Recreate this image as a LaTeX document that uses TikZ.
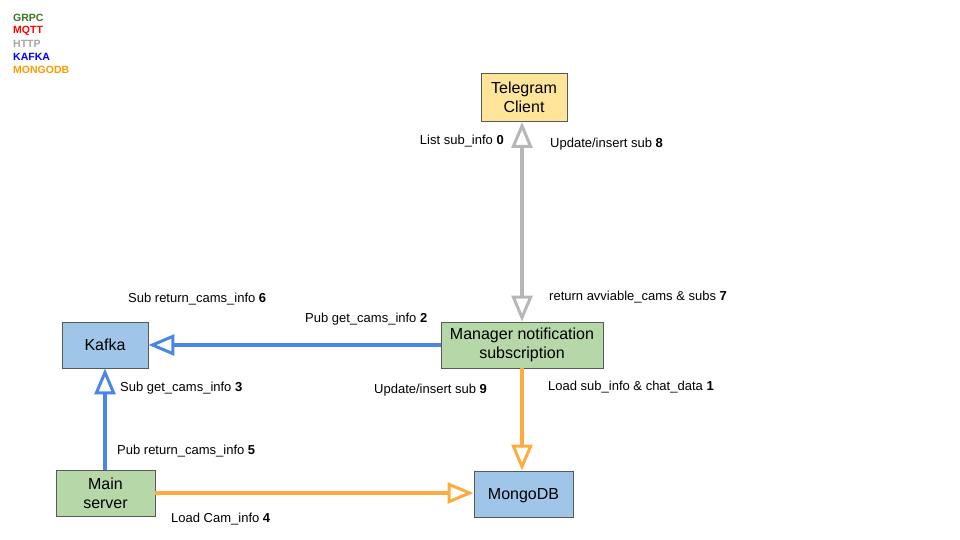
\documentclass[tikz,border=0pt]{standalone}
\usepackage{fontspec}
\setmainfont{Liberation Sans}
\usetikzlibrary{arrows.meta}
\definecolor{tgfill}{HTML}{FFE599}
\definecolor{bluefill}{HTML}{9FC5E8}
\definecolor{greenfill}{HTML}{B6D7A8}
\definecolor{boxline}{HTML}{595959}
\definecolor{kafkaline}{HTML}{4A86E8}
\definecolor{mongoline}{HTML}{FFAB40}
\definecolor{httpline}{HTML}{B7B7B7}
\definecolor{lgrpc}{HTML}{38761D}
\definecolor{lmqtt}{HTML}{FF0000}
\definecolor{lhttp}{HTML}{A5A5A5}
\definecolor{lkafka}{HTML}{0000FF}
\definecolor{lmongo}{HTML}{FF9900}
\tikzset{
  box/.style={draw=boxline, line width=0.9pt, align=center, inner sep=0pt,
    font=\fontsize{16}{19}\selectfont},
  lbl/.style={anchor=west, inner sep=0pt, font=\fontsize{13}{15}\selectfont},
  leg/.style={anchor=west, inner sep=0pt, font=\fontsize{10.5}{12}\selectfont\bfseries},
  tip/.tip={Triangle[open, length=26pt, width=21pt, line width=3pt]},
  conn/.style={line width=3.2pt, -tip},
  conn2/.style={line width=3.2pt, tip-tip}
}
\begin{document}
\begin{tikzpicture}[x=1pt, y=-1pt]
\useasboundingbox (0,0) rectangle (960,540);
% legend
\node[leg, text=lgrpc] (lg1) at (13,18) {GRPC};
\node[leg, text=lmqtt] (lg2) at (13,31) {MQTT};
\node[leg, text=lhttp] (lg3) at (13,44) {HTTP};
\node[leg, text=lkafka] (lg4) at (13,57) {KAFKA};
\node[leg, text=lmongo] (lg5) at (13,70) {MONGODB};
% boxes
\node[box, fill=tgfill, minimum width=86pt, minimum height=48pt] (tele) at (524,97.5) {Telegram\\Client};
\node[box, fill=bluefill, minimum width=86pt, minimum height=46pt] (kafka) at (105,345) {Kafka};
\node[box, fill=greenfill, minimum width=162pt, minimum height=46pt] (mgr) at (522,345) {Manager notification\\subscription};
\node[box, fill=greenfill, minimum width=99pt, minimum height=46pt] (main) at (105.5,493) {Main\\server};
\node[box, fill=bluefill, minimum width=99pt, minimum height=46pt, text depth=0pt] (mongo) at (523.5,494) {MongoDB};
% connectors
\draw[conn2, draw=httpline] (tele.south -| mgr.north) -- (mgr.north);
\draw[conn, draw=kafkaline] (mgr.west) -- (kafka.east);
\draw[conn, draw=kafkaline] (main.north -| kafka.south) -- (kafka.south);
\draw[conn, draw=mongoline] (mgr.south) -- (mgr.south |- mongo.north);
\draw[conn, draw=mongoline] (main.east) -- (main.east -| mongo.west);
% labels
\node[lbl, anchor=east] (l0) at (504,141) {List sub\_info \textbf{0}};
\node[lbl] (l8) at (550,144) {Update/insert sub \textbf{8}};
\node[lbl] (l7) at (549,297) {return avviable\_cams \& subs \textbf{7}};
\node[lbl] (l6) at (128,299.5) {Sub return\_cams\_info \textbf{6}};
\node[lbl] (l2) at (305,319) {Pub get\_cams\_info \textbf{2}};
\node[lbl] (l3) at (120,388) {Sub get\_cams\_info \textbf{3}};
\node[lbl] (l9) at (374,390) {Update/insert sub \textbf{9}};
\node[lbl] (l1) at (548,387) {Load sub\_info \& chat\_data \textbf{1}};
\node[lbl] (l5) at (117,451) {Pub return\_cams\_info \textbf{5}};
\node[lbl] (l4) at (171,519) {Load Cam\_info \textbf{4}};
\end{tikzpicture}
\end{document}
